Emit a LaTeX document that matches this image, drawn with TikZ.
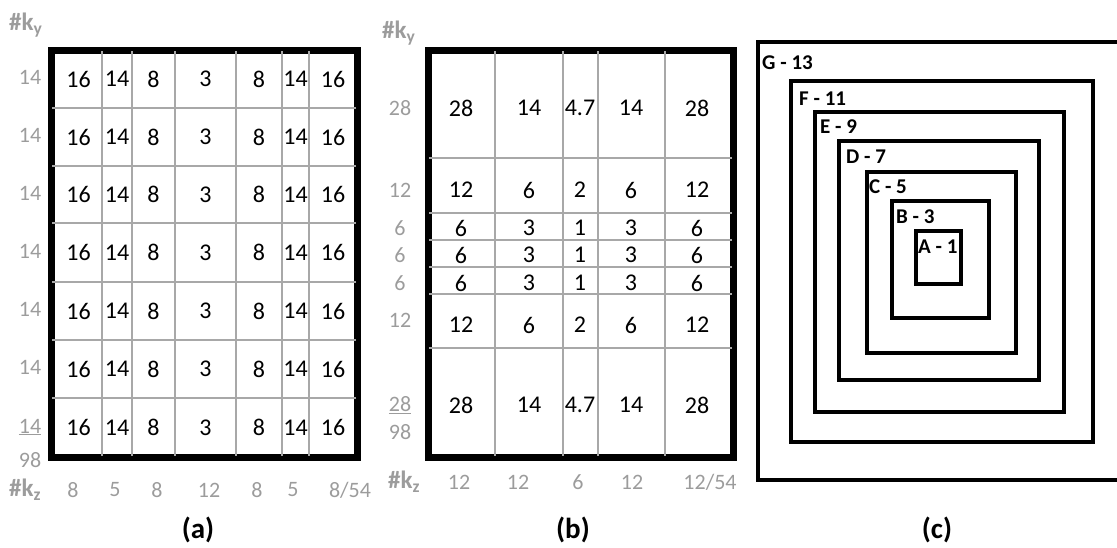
\documentclass[tikz,border=0pt]{standalone}
\usepackage{fontspec}
\setmainfont{Carlito}
\definecolor{lblgray}{HTML}{9C9C9C}
\definecolor{gridgray}{HTML}{A8A8A8}
\tikzset{
  border/.style={line width=7pt, draw=black},
  gridline/.style={line width=2.8pt, draw=gridgray},
  ring/.style={line width=4.5pt, draw=black},
  cell/.style={font=\fontsize{24}{26}\selectfont, text=black, inner sep=0pt},
  lbl/.style={font=\fontsize{22}{24}\selectfont, text=lblgray, inner sep=0pt},
  axis/.style={font=\fontsize{25}{27}\selectfont\bfseries, text=lblgray, inner sep=0pt},
  captxt/.style={font=\fontsize{29}{31}\selectfont\bfseries, text=black, inner sep=0pt},
  ringlbl/.style={font=\fontsize{21}{23}\selectfont\bfseries, text=black, inner sep=0pt, anchor=west},
}
\begin{document}
\begin{tikzpicture}[x=1pt, y=-1pt]
\useasboundingbox (0,0) rectangle (1117,547);
% ---------------- panel (a) ----------------
\draw[border] (51.5,50) rectangle (357,457);
\foreach \x in {102,132,175,236,282,309} \draw[gridline] (\x,51) -- (\x,456);
\foreach \y in {108,166,223,282,340,398} \draw[gridline] (52,\y) -- (356,\y);
\foreach \y [count=\r] in {79,137,194.5,252.5,311,369,427.5} {
  \foreach \x/\v [count=\c] in {78.5/16,117/14,153.5/8,205.5/3,259/8,295.5/14,333/16}
    \node[cell] (a-\r-\c) at (\x,\y) {\v};
}
\foreach \y [count=\r] in {77,135,193,251,309,367} \node[lbl] (ay-\r) at (30,\y) {14};
\node[lbl] (ay-7) at (30,427) {\underline{14}};
\node[lbl] (ay-sum) at (30,460) {98};
\node[axis, anchor=west] (aky) at (9,25) {\#k\textsubscript{y}};
\node[axis, anchor=west] (akz) at (9,490) {\#k\textsubscript{z}};
\foreach \x/\v [count=\c] in {73/8,115/5,157/8,209/12,257/8,293/5,350/{8/54}}
  \node[lbl] (az-\c) at (\x,490) {\v};
\node[captxt] (capa) at (198,530) {(a)};
% ---------------- panel (b) ----------------
\draw[border] (428,50) rectangle (733,457);
\foreach \x in {495,563,598,665} \draw[gridline] (\x,51) -- (\x,456);
\foreach \y in {158,213,240,267,294,348} \draw[gridline] (429,\y) -- (732,\y);
\foreach \y/\va/\vb/\vc [count=\r] in {108/28/14/4.7,190/12/6/2,228/6/3/1,255/6/3/1,283/6/3/1,325/12/6/2,405/28/14/4.7} {
  \node[cell] (b-\r-1) at (461,\y) {\va};
  \node[cell] (b-\r-2) at (529,\y) {\vb};
  \node[cell] (b-\r-3) at (580,\y) {\vc};
  \node[cell] (b-\r-4) at (631,\y) {\vb};
  \node[cell] (b-\r-5) at (697,\y) {\va};
}
\foreach \y/\v [count=\r] in {108/28,190/12,228/6,255/6,283/6,320/12}
  \node[lbl] (by-\r) at (400,\y) {\v};
\node[lbl] (by-7) at (400,405) {\underline{28}};
\node[lbl] (by-sum) at (400,432) {98};
\node[axis, anchor=west] (bky) at (382,33) {\#k\textsubscript{y}};
\node[axis, anchor=west] (bkz) at (388,482) {\#k\textsubscript{z}};
\foreach \x/\v [count=\c] in {459/12,518/12,578/6,632/12,710/{12/54}}
  \node[lbl] (bz-\c) at (\x,482) {\v};
\node[captxt] (capb) at (573,530) {(b)};
% ---------------- panel (c) ----------------
\begin{scope}
\clip (740,0) rectangle (1117,547);
\draw[ring] (758,42) rectangle (1135,480);
\end{scope}
\draw[ring] (791,81) rectangle (1093,442);
\draw[ring] (815,112) rectangle (1064,412);
\draw[ring] (839,141) rectangle (1039,380);
\draw[ring] (867,172) rectangle (1016,353);
\draw[ring] (892,201) rectangle (989,318);
\draw[ring] (916,231) rectangle (961,284);
\node[ringlbl] (lg) at (762,63) {G - 13};
\node[ringlbl] (lf) at (799,99) {F - 11};
\node[ringlbl] (le) at (820,127) {E - 9};
\node[ringlbl] (ld) at (846,157) {D - 7};
\node[ringlbl] (lc) at (869,187) {C - 5};
\node[ringlbl] (lb) at (896,217) {B - 3};
\node[ringlbl] (la) at (918,247) {A - 1};
\node[captxt] (capc) at (937,530) {(c)};
\end{tikzpicture}
\end{document}
